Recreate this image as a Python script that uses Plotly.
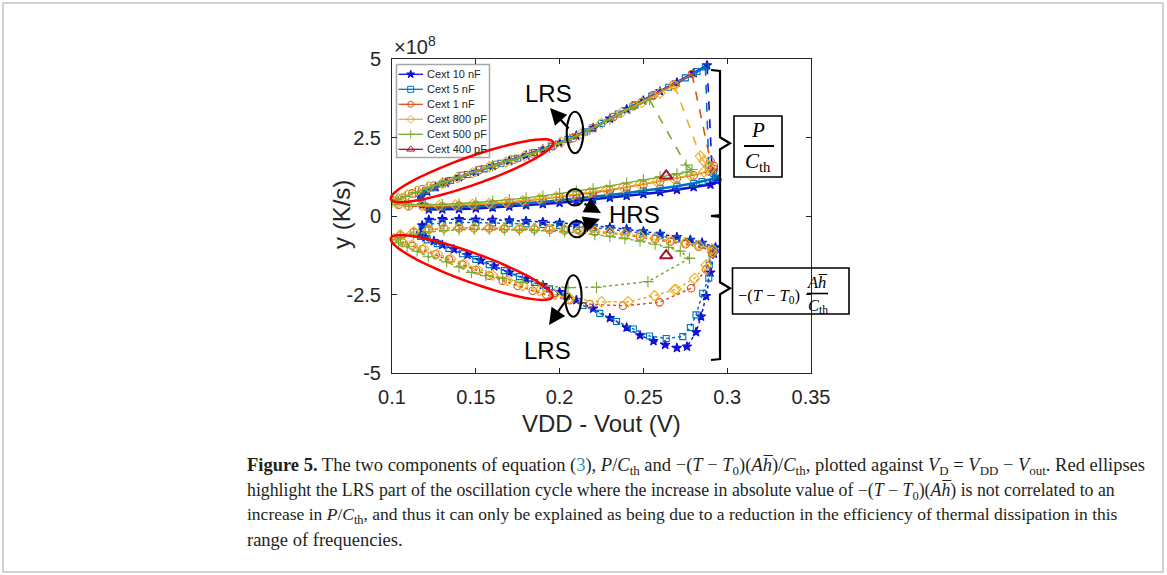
import math
import plotly.graph_objects as go

# ---------------- data (y in units of 1e8 K/s) ----------------
names = ["Cext 10 nF", "Cext 5 nF", "Cext 1 nF", "Cext 800 pF", "Cext 500 pF", "Cext 400 pF"]
colors = ["#1010D8", "#0072BD", "#D95319", "#EDB120", "#77AC30", "#A2142F"]
symbols = ["star", "square-open", "circle-open", "diamond-open", "cross-thin", "triangle-up-open"]
msizes = [7, 6, 7.5, 8, 8, 11]

# top half (P/Cth): HRS branch right->left, then LRS branch left->right
c10_top_x = [0.291, 0.294, 0.290, 0.280, 0.270, 0.260, 0.250, 0.240, 0.230, 0.220, 0.210, 0.200, 0.190, 0.180, 0.170, 0.160, 0.150, 0.140, 0.130, 0.122, 0.118,
             0.117, 0.121, 0.126, 0.132, 0.140, 0.150, 0.160, 0.170, 0.180, 0.190, 0.200, 0.210, 0.220, 0.230, 0.240, 0.250, 0.260, 0.270, 0.280, 0.288]
c10_top_y = [1.45, 1.12, 1.00, 0.92, 0.83, 0.76, 0.70, 0.64, 0.58, 0.52, 0.47, 0.42, 0.38, 0.34, 0.30, 0.27, 0.24, 0.22, 0.21, 0.21, 0.35,
             0.60, 0.78, 0.92, 1.06, 1.24, 1.41, 1.60, 1.76, 1.93, 2.12, 2.33, 2.56, 2.80, 3.10, 3.40, 3.68, 3.97, 4.25, 4.55, 4.80]
c5_top_x = [0.289, 0.292, 0.293, 0.285, 0.280, 0.270, 0.260, 0.250, 0.240, 0.230, 0.220, 0.210, 0.200, 0.190, 0.180, 0.170, 0.160, 0.150, 0.140, 0.130, 0.122, 0.118,
            0.117, 0.120, 0.125, 0.130, 0.135, 0.145, 0.155, 0.165, 0.175, 0.185, 0.195, 0.205, 0.215, 0.225, 0.235, 0.245, 0.255, 0.265, 0.275, 0.282, 0.287]
c5_top_y = [1.60, 1.35, 1.20, 1.10, 1.04, 0.95, 0.87, 0.80, 0.73, 0.67, 0.61, 0.55, 0.50, 0.45, 0.41, 0.37, 0.34, 0.31, 0.29, 0.28, 0.28, 0.42,
            0.65, 0.80, 0.90, 1.02, 1.13, 1.32, 1.50, 1.68, 1.84, 2.02, 2.22, 2.44, 2.68, 2.95, 3.25, 3.54, 3.82, 4.10, 4.40, 4.60, 4.75]
c1_top_x = [0.290, 0.292, 0.292, 0.289, 0.280, 0.270, 0.260, 0.250, 0.240, 0.230, 0.220, 0.210, 0.200, 0.190, 0.180, 0.170, 0.160, 0.150, 0.140, 0.130, 0.120, 0.110, 0.104,
            0.101, 0.106, 0.112, 0.118, 0.125, 0.133, 0.142, 0.152, 0.162, 0.173, 0.184, 0.196, 0.208, 0.220, 0.232, 0.244, 0.256, 0.268, 0.279]
c1_top_y = [1.75, 1.60, 1.50, 1.42, 1.30, 1.20, 1.10, 1.00, 0.91, 0.82, 0.74, 0.67, 0.60, 0.53, 0.48, 0.43, 0.39, 0.36, 0.33, 0.31, 0.30, 0.31, 0.36,
            0.48, 0.58, 0.72, 0.85, 0.97, 1.10, 1.28, 1.46, 1.63, 1.80, 1.99, 2.22, 2.48, 2.80, 3.15, 3.50, 3.85, 4.18, 4.52]
c800_top_x = [0.284, 0.286, 0.289, 0.290, 0.286, 0.278, 0.268, 0.258, 0.248, 0.238, 0.228, 0.218, 0.208, 0.198, 0.188, 0.178, 0.168, 0.158, 0.148, 0.138, 0.128, 0.118, 0.109, 0.103,
              0.100, 0.104, 0.109, 0.115, 0.122, 0.130, 0.139, 0.148, 0.158, 0.168, 0.179, 0.190, 0.201, 0.213, 0.225, 0.237, 0.249, 0.260, 0.2686]
c800_top_y = [1.90, 1.75, 1.62, 1.50, 1.40, 1.30, 1.20, 1.10, 1.00, 0.91, 0.83, 0.75, 0.68, 0.61, 0.55, 0.49, 0.44, 0.40, 0.37, 0.35, 0.33, 0.33, 0.35, 0.40,
              0.50, 0.56, 0.66, 0.80, 0.93, 1.05, 1.22, 1.38, 1.57, 1.72, 1.90, 2.10, 2.35, 2.62, 2.95, 3.30, 3.62, 3.92, 4.15]
c500_top_x = [0.2755, 0.279, 0.276, 0.270, 0.260, 0.250, 0.240, 0.230, 0.220, 0.210, 0.200, 0.190, 0.180, 0.170, 0.160, 0.150, 0.140, 0.130, 0.120, 0.110, 0.103,
              0.100, 0.103, 0.108, 0.114, 0.121, 0.130, 0.140, 0.150, 0.160, 0.171, 0.182, 0.194, 0.206, 0.218, 0.230, 0.242, 0.2537]
c500_top_y = [1.62, 1.48, 1.40, 1.34, 1.25, 1.15, 1.05, 0.96, 0.87, 0.79, 0.71, 0.64, 0.58, 0.52, 0.47, 0.43, 0.39, 0.37, 0.36, 0.37, 0.42,
              0.45, 0.52, 0.62, 0.75, 0.90, 1.06, 1.24, 1.42, 1.60, 1.78, 1.96, 2.18, 2.45, 2.75, 3.08, 3.42, 3.70]

# bottom half (-(T-T0)Ah/Cth): HRS branch right->left, then LRS branch left->right
c10_bot_x = [0.293, 0.285, 0.278, 0.270, 0.260, 0.250, 0.240, 0.230, 0.220, 0.210, 0.200, 0.190, 0.180, 0.170, 0.160, 0.150, 0.140, 0.130, 0.122, 0.118,
             0.117, 0.120, 0.125, 0.130, 0.137, 0.145, 0.153, 0.161, 0.170, 0.180, 0.190, 0.200, 0.210, 0.220, 0.230, 0.240, 0.248, 0.256, 0.263, 0.270, 0.276, 0.2814, 0.2844, 0.2874, 0.290, 0.292]
c10_bot_y = [-1.00, -0.85, -0.76, -0.67, -0.57, -0.49, -0.42, -0.36, -0.31, -0.26, -0.22, -0.19, -0.16, -0.14, -0.12, -0.11, -0.10, -0.10, -0.12, -0.30,
             -0.55, -0.68, -0.80, -0.92, -1.06, -1.24, -1.42, -1.60, -1.80, -2.00, -2.20, -2.42, -2.68, -2.95, -3.25, -3.55, -3.80, -3.98, -4.10, -4.20, -4.16, -3.70, -3.20, -2.55, -1.80, -1.20]
c5_bot_x = [0.292, 0.285, 0.278, 0.270, 0.260, 0.250, 0.240, 0.230, 0.220, 0.210, 0.200, 0.190, 0.180, 0.170, 0.160, 0.150, 0.140, 0.130, 0.122, 0.118,
            0.117, 0.121, 0.127, 0.134, 0.142, 0.150, 0.158, 0.167, 0.176, 0.185, 0.194, 0.204, 0.214, 0.224, 0.234, 0.244, 0.2537, 0.2636, 0.2735, 0.278, 0.2814, 0.2854, 0.289, 0.2893, 0.291]
c5_bot_y = [-1.05, -0.92, -0.82, -0.73, -0.63, -0.55, -0.48, -0.42, -0.37, -0.33, -0.30, -0.27, -0.25, -0.23, -0.22, -0.21, -0.21, -0.22, -0.25, -0.42,
            -0.65, -0.76, -0.88, -1.03, -1.20, -1.38, -1.55, -1.74, -1.93, -2.12, -2.32, -2.56, -2.85, -3.10, -3.36, -3.60, -3.82, -3.90, -3.84, -3.55, -3.15, -2.46, -1.98, -1.56, -1.20]
c1_bot_x = [0.291, 0.283, 0.275, 0.266, 0.257, 0.248, 0.239, 0.230, 0.221, 0.212, 0.203, 0.194, 0.185, 0.176, 0.167, 0.158, 0.149, 0.140, 0.131, 0.122, 0.113, 0.105,
            0.101, 0.106, 0.112, 0.118, 0.126, 0.134, 0.142, 0.150, 0.158, 0.166, 0.175, 0.184, 0.192, 0.206, 0.218, 0.2378, 0.2596, 0.2785, 0.2875, 0.291]
c1_bot_y = [-1.10, -0.98, -0.90, -0.82, -0.74, -0.67, -0.60, -0.55, -0.51, -0.48, -0.46, -0.44, -0.43, -0.42, -0.41, -0.40, -0.39, -0.39, -0.40, -0.44, -0.52, -0.62,
            -0.74, -0.84, -0.95, -1.06, -1.22, -1.38, -1.55, -1.72, -1.90, -2.06, -2.22, -2.38, -2.50, -2.68, -2.81, -2.86, -2.75, -2.30, -1.70, -1.20]
c800_bot_x = [0.291, 0.283, 0.275, 0.266, 0.257, 0.248, 0.239, 0.230, 0.221, 0.212, 0.203, 0.194, 0.185, 0.176, 0.167, 0.158, 0.149, 0.140, 0.131, 0.122, 0.113, 0.105,
              0.101, 0.106, 0.112, 0.119, 0.127, 0.135, 0.143, 0.151, 0.160, 0.169, 0.178, 0.188, 0.197, 0.206, 0.225, 0.2408, 0.2566, 0.2685, 0.2695, 0.2804, 0.2874, 0.291]
c800_bot_y = [-1.05, -0.93, -0.85, -0.77, -0.70, -0.63, -0.57, -0.52, -0.48, -0.45, -0.43, -0.41, -0.40, -0.39, -0.38, -0.37, -0.37, -0.37, -0.38, -0.42, -0.50, -0.60,
              -0.72, -0.82, -0.92, -1.04, -1.20, -1.36, -1.53, -1.70, -1.88, -2.05, -2.22, -2.38, -2.50, -2.62, -2.73, -2.73, -2.54, -2.36, -2.33, -1.99, -1.56, -1.15]
c500_bot_x = [0.2775, 0.272, 0.265, 0.257, 0.248, 0.239, 0.230, 0.221, 0.212, 0.203, 0.194, 0.185, 0.176, 0.167, 0.158, 0.149, 0.140, 0.131, 0.122, 0.113, 0.105,
              0.100, 0.104, 0.109, 0.115, 0.1216, 0.1326, 0.140, 0.1474, 0.156, 0.166, 0.178, 0.190, 0.205, 0.222, 0.2527, 0.2775]
c500_bot_y = [-1.35, -1.12, -1.00, -0.90, -0.80, -0.72, -0.65, -0.59, -0.54, -0.50, -0.48, -0.46, -0.45, -0.44, -0.43, -0.43, -0.44, -0.46, -0.50, -0.58, -0.68,
              -0.76, -0.86, -0.98, -1.12, -1.30, -1.46, -1.62, -1.80, -1.90, -1.98, -2.12, -2.22, -2.28, -2.27, -2.09, -1.35]
c400_x = [0.2636, 0.2636]
c400_y = [1.28, -1.26]

x_ticks = [0.1, 0.15, 0.2, 0.25, 0.3, 0.35]
x_ticktext = ["0.1", "0.15", "0.2", "0.25", "0.3", "0.35"]
y_ticks = [-5, -2.5, 0, 2.5, 5]
y_ticktext = ["-5", "-2.5", "0", "2.5", "5"]

# ---------------- layout geometry (pixels) ----------------
W, H = 1167, 575
L, R, T, B = 392, 811, 59, 373


def px(x):
    return (x - L) / (R - L)


def py(y):
    return (B - y) / (B - T)


fig = go.Figure()

tops = [(c10_top_x, c10_top_y), (c5_top_x, c5_top_y), (c1_top_x, c1_top_y),
        (c800_top_x, c800_top_y), (c500_top_x, c500_top_y)]
bots = [(c10_bot_x, c10_bot_y), (c5_bot_x, c5_bot_y), (c1_bot_x, c1_bot_y),
        (c800_bot_x, c800_bot_y), (c500_bot_x, c500_bot_y)]


def mk(i):
    return dict(symbol=symbols[i], size=msizes[i], color=colors[i],
                line=dict(color=colors[i], width=1.1 if i != 5 else 2))


for i in range(5):
    tx, ty = tops[i]
    bx, by = bots[i]
    lw = 2.5 if i < 2 else 1.3
    fig.add_trace(go.Scatter(x=tx, y=ty, mode="lines+markers",
                             line=dict(color=colors[i], width=lw), marker=mk(i),
                             showlegend=False, hoverinfo="skip"))
    fig.add_trace(go.Scatter(x=[tx[-1], tx[0]], y=[ty[-1], ty[0]], mode="lines",
                             line=dict(color=colors[i], width=1.6, dash="dash"),
                             showlegend=False, hoverinfo="skip"))
    fig.add_trace(go.Scatter(x=bx, y=by, mode="lines+markers",
                             line=dict(color=colors[i], width=1.5, dash="dot"), marker=mk(i),
                             showlegend=False, hoverinfo="skip"))
fig.add_trace(go.Scatter(x=c400_x, y=c400_y, mode="markers", marker=mk(5),
                         showlegend=False, hoverinfo="skip"))

# ---------------- custom legend on an overlay axis ----------------
lx0, lx1, ly0, ly1 = 396.5, 489.5, 64.5, 157.5
fig.add_trace(go.Scatter(x=[px(lx0), px(lx1), px(lx1), px(lx0), px(lx0)],
                         y=[py(ly0), py(ly0), py(ly1), py(ly1), py(ly0)],
                         xaxis="x2", yaxis="y2", mode="lines", fill="toself",
                         fillcolor="white", line=dict(color="#a6a6a6", width=1.5),
                         showlegend=False, hoverinfo="skip"))
annotations = []
for i, nm in enumerate(names):
    ry = 74.3 + 15.0 * i
    fig.add_trace(go.Scatter(x=[px(398.5), px(423)], y=[py(ry), py(ry)], xaxis="x2", yaxis="y2",
                             mode="lines", line=dict(color=colors[i], width=1.3),
                             showlegend=False, hoverinfo="skip"))
    m = mk(i)
    m["size"] = 6 if i != 5 else 7
    m["line"]["width"] = 1
    fig.add_trace(go.Scatter(x=[px(410.7)], y=[py(ry)], xaxis="x2", yaxis="y2",
                             mode="markers", marker=m, showlegend=False, hoverinfo="skip"))
    annotations.append(dict(x=px(424.5), y=py(ry), xref="paper", yref="paper", text=nm,
                            showarrow=False, xanchor="left", yanchor="middle",
                            font=dict(family="Liberation Sans", size=11, color="#262626")))

# ---------------- shapes ----------------
shapes = []


def ellipse_path(cx, cy, a, b, dx, dy):
    ang = math.atan2(dy, dx)
    pts = []
    for k in range(0, 73):
        t = 2 * math.pi * k / 72
        ex = cx + a * math.cos(t) * math.cos(ang) - b * math.sin(t) * math.sin(ang)
        ey = cy + a * math.cos(t) * math.sin(ang) + b * math.sin(t) * math.cos(ang)
        pts.append((px(ex), py(ey)))
    return "M " + " L ".join(f"{x:.5f},{y:.5f}" for x, y in pts) + " Z"


shapes.append(dict(type="path", xref="paper", yref="paper",
                   path=ellipse_path(472, 170.7, 86, 14, 162, -57),
                   line=dict(color="#FF0000", width=2.5), layer="above"))
shapes.append(dict(type="path", xref="paper", yref="paper",
                   path=ellipse_path(471.7, 267.5, 86, 14.5, 160.7, 58.4),
                   line=dict(color="#FF0000", width=2.5), layer="above"))


def oval(cx, cy, rx, ry):
    return dict(type="circle", xref="paper", yref="paper",
                x0=px(cx - rx), x1=px(cx + rx), y0=py(cy + ry), y1=py(cy - ry),
                line=dict(color="black", width=2), layer="above")


shapes += [oval(575, 132.5, 8.3, 20.8), oval(573.3, 296, 8.3, 20.8),
           oval(575, 197.3, 8.3, 8.3), oval(577, 229, 8.3, 8.3)]


def brace(top, mid, bot):
    pts = [(711, top), (720, top + 1), (720, mid - 6), (730, mid), (720, mid + 6),
           (720, bot - 1), (711, bot)]
    return dict(type="path", xref="paper", yref="paper",
                path="M " + " L ".join(f"{px(x):.5f},{py(y):.5f}" for x, y in pts),
                line=dict(color="black", width=2.2), layer="above")


shapes.append(brace(70, 143.3, 216))
shapes.append(brace(216, 288.3, 360))


def rect(x0, y0, x1, y1, color="black", width=1.6):
    return dict(type="rect", xref="paper", yref="paper", x0=px(x0), x1=px(x1),
                y0=py(y1), y1=py(y0), line=dict(color=color, width=width), layer="above")


shapes.append(rect(734, 116, 782, 177))
shapes.append(rect(732.5, 268, 849, 314))
# fraction bars
shapes.append(dict(type="line", xref="paper", yref="paper", x0=px(744), x1=px(774),
                   y0=py(146), y1=py(146), line=dict(color="black", width=2), layer="above"))
shapes.append(dict(type="line", xref="paper", yref="paper", x0=px(807), x1=px(828),
                   y0=py(293.5), y1=py(293.5), line=dict(color="black", width=1.6), layer="above"))
# figure frame
shapes.append(dict(type="rect", xref="paper", yref="paper", x0=px(3), x1=px(1163),
                   y0=py(572), y1=py(3), line=dict(color="#c4c4c4", width=1.5), layer="below"))

# ---------------- annotations ----------------
sans = "Liberation Sans"
serif = "Liberation Serif"


def txt(x, y, s, size, family=sans, xanchor="center", angle=0, color="black"):
    annotations.append(dict(x=px(x), y=py(y), xref="paper", yref="paper", text=s,
                            showarrow=False, xanchor=xanchor, yanchor="middle", textangle=angle,
                            font=dict(family=family, size=size, color=color)))


def arrow(x_tail, y_tail, x_tip, y_tip):
    annotations.append(dict(x=px(x_tip), y=py(y_tip), xref="paper", yref="paper", text="",
                            showarrow=True, ax=x_tail - x_tip, ay=y_tail - y_tip,
                            arrowhead=2, arrowsize=1.5, arrowwidth=2.2, arrowcolor="black",
                            standoff=0, startstandoff=0))


txt(548, 93, "LRS", 24)
txt(547, 350, "LRS", 24)
txt(634, 214, "HRS", 24)
arrow(570, 130, 550, 108)
arrow(583, 203, 601, 213)
arrow(582, 225, 600, 219)
arrow(571, 293, 549, 325)

txt(758, 130, "<i>P</i>", 21, serif)
txt(758, 162, "<i>C</i><sub>th</sub>", 21, serif)
txt(736, 295.5, "−(<i>T</i> − <i>T</i><sub>0</sub>)", 16.5, serif, xanchor="left")
txt(817.5, 282, "<i>Ah\u0305</i>", 16.5, serif)
txt(817.5, 306, "<i>C</i><sub>th</sub>", 16.5, serif)

# axis labels and exponent
txt(601, 423, "VDD - Vout (V)", 24, color="#262626")
txt(341, 215, "y (K/s)", 24, angle=-90, color="#262626")
txt(392, 46, "×10<sup>8</sup>", 20, xanchor="left", color="#262626")

# caption
cap = [
    "<b>Figure 5.</b> The two components of equation (<span style='color:#2a8fc9'>3</span>), "
    "<i>P</i>/<i>C</i><sub>th</sub> and −(<i>T</i> − <i>T</i><sub>0</sub>)(<i>Ah\u0305</i>)/<i>C</i><sub>th</sub>, "
    "plotted against <i>V</i><sub>D</sub> = <i>V</i><sub>DD</sub> − <i>V</i><sub>out</sub>. Red ellipses",
    "highlight the LRS part of the oscillation cycle where the increase in absolute value of "
    "−(<i>T</i> − <i>T</i><sub>0</sub>)(<i>Ah\u0305</i>) is not correlated to an",
    "increase in <i>P</i>/<i>C</i><sub>th</sub>, and thus it can only be explained as being due to a "
    "reduction in the efficiency of thermal dissipation in this",
    "range of frequencies.",
]
cap_sizes = [18.5, 17.8, 17.5, 18.5]
for k, line in enumerate(cap):
    txt(245, 466.5 + 24.6 * k, line, cap_sizes[k], serif, xanchor="left", color="#231f20")

fig.update_layout(
    width=W, height=H,
    margin=dict(l=L, r=W - R, t=T, b=H - B, pad=0),
    paper_bgcolor="white", plot_bgcolor="white",
    showlegend=False,
    xaxis=dict(range=[0.1, 0.35], tickvals=x_ticks, ticktext=x_ticktext,
               ticks="inside", ticklen=5, tickwidth=1, tickcolor="#262626",
               showline=True, linecolor="#262626", linewidth=1, mirror="ticks",
               showgrid=False, zeroline=False, ticklabelstandoff=6,
               tickfont=dict(family=sans, size=20, color="#262626")),
    yaxis=dict(range=[-5, 5], tickvals=y_ticks, ticktext=y_ticktext,
               ticks="inside", ticklen=5, tickwidth=1, tickcolor="#262626",
               showline=True, linecolor="#262626", linewidth=1, mirror="ticks",
               showgrid=False, zeroline=False, ticklabelstandoff=6,
               tickfont=dict(family=sans, size=20, color="#262626")),
    xaxis2=dict(range=[0, 1], overlaying="x", anchor="y2", visible=False, fixedrange=True),
    yaxis2=dict(range=[0, 1], overlaying="y", anchor="x2", visible=False, fixedrange=True),
    shapes=shapes,
    annotations=annotations,
)

fig.write_html("out.html", config={"displayModeBar": False},
               post_script="document.body.style.margin='0px';")
